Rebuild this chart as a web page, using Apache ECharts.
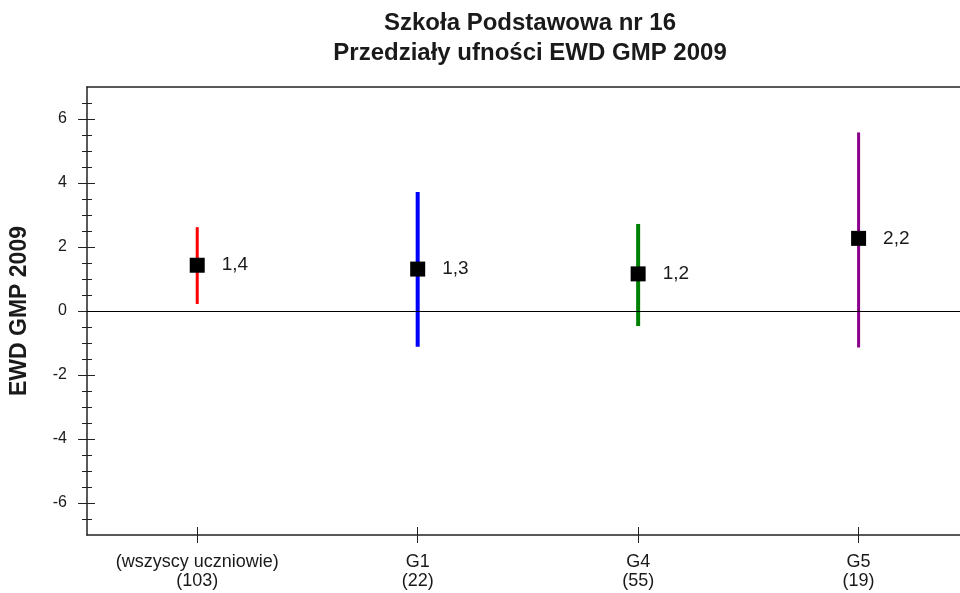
<!DOCTYPE html>
<html>
<head>
<meta charset="utf-8">
<script src="https://cdn.jsdelivr.net/npm/echarts@6/dist/echarts.min.js"></script>
<style>html,body{margin:0;padding:0;background:#fff}#c{width:960px;height:593px}</style>
</head>
<body>
<div id="c"></div>
<script>
// ---- data ----
const categories = ['(wszyscy uczniowie)\n(103)', 'G1\n(22)', 'G4\n(55)', 'G5\n(19)'];
const categoryIndex = [0, 1, 2, 3];
const means = [1.43, 1.31, 1.16, 2.27];
const lowerBounds = [0.22, -1.12, -0.47, -1.14];
const upperBounds = [2.62, 3.72, 2.72, 5.58];
const meanLabels = ['1,4', '1,3', '1,2', '2,2'];
const yMajorTicks = [-6, -4, -2, 0, 2, 4, 6];
const yMinorTicks = [-6.5, -5.5, -5, -4.5, -3.5, -3, -2.5, -1.5, -1, -0.5, 0.5, 1, 1.5, 2.5, 3, 3.5, 4.5, 5, 5.5, 6.5];

// ---- styles ----
const barColors = ['#ff0000', '#0000ff', '#008000', '#8b008b'];
const barWidths = [3, 4, 4, 3];
const FONT = '"Liberation Sans", Arial, sans-serif';

const chart = echarts.init(document.getElementById('c'), null, {renderer: 'canvas'});

const yBase = {type: 'value', min: -7, max: 7, position: 'left', splitLine: {show: false}};
// category slots on a value scale; the plot runs past the right edge of the window
const xBase = {type: 'value', min: -0.5, max: 3.46, splitLine: {show: false}};

const option = {
  animation: false,
  backgroundColor: '#ffffff',
  title: {
    text: 'Szkoła Podstawowa nr 16\nPrzedziały ufności EWD GMP 2009',
    left: 525, top: 3, textAlign: 'center',
    textStyle: {fontFamily: FONT, fontWeight: 'bold', fontSize: 24, lineHeight: 30, color: '#1a1a1a'}
  },
  grid: {left: 86, top: 87, right: 0, bottom: 58, containLabel: false},
  xAxis: [
    Object.assign({}, xBase, {
      position: 'bottom',
      axisLine: {show: true, onZero: false, lineStyle: {color: '#222', width: 1.5}},
      axisTick: {show: true, inside: false, length: 8, customValues: categoryIndex, lineStyle: {color: '#222'}},
      axisLabel: {show: true, margin: 18, customValues: categoryIndex, formatter: v => categories[Math.round(v)],
        fontFamily: FONT, fontSize: 18, lineHeight: 19, color: '#1a1a1a'}
    }),
    Object.assign({}, xBase, {
      position: 'bottom',
      axisLine: {show: false, onZero: false},
      axisTick: {show: true, inside: true, length: 8, customValues: categoryIndex, lineStyle: {color: '#222'}},
      axisLabel: {show: false}
    }),
    Object.assign({}, xBase, {
      position: 'top',
      axisLine: {show: true, onZero: false, lineStyle: {color: '#222', width: 1.5}},
      axisTick: {show: false},
      axisLabel: {show: false}
    })
  ],
  yAxis: [
    Object.assign({}, yBase, {
      name: 'EWD GMP 2009', nameLocation: 'middle', nameGap: 56, nameRotate: 90,
      nameTextStyle: {fontFamily: FONT, fontWeight: 'bold', fontSize: 23, color: '#1a1a1a'},
      axisLine: {show: true, onZero: false, lineStyle: {color: '#222', width: 1.5}},
      axisTick: {show: true, inside: false, length: 9, customValues: yMajorTicks, lineStyle: {color: '#222'}},
      axisLabel: {show: true, margin: 20, customValues: yMajorTicks, fontFamily: FONT, fontSize: 16, color: '#1a1a1a'}
    }),
    Object.assign({}, yBase, {
      axisLine: {show: false, onZero: false},
      axisTick: {show: true, inside: true, length: 8, customValues: yMajorTicks, lineStyle: {color: '#222'}},
      axisLabel: {show: false}
    }),
    Object.assign({}, yBase, {
      axisLine: {show: false, onZero: false},
      axisTick: {show: true, inside: false, length: 5, customValues: yMinorTicks, lineStyle: {color: '#222'}},
      axisLabel: {show: false}
    }),
    Object.assign({}, yBase, {
      axisLine: {show: false, onZero: false},
      axisTick: {show: true, inside: true, length: 5, customValues: yMinorTicks, lineStyle: {color: '#222'}},
      axisLabel: {show: false}
    })
  ],
  series: [
    {
      type: 'custom',
      xAxisIndex: 0, yAxisIndex: 0,
      data: categoryIndex.map(i => [i, lowerBounds[i], upperBounds[i]]),
      renderItem: function (params, api) {
        const i = api.value(0);
        const p1 = api.coord([i, api.value(1)]);
        const p2 = api.coord([i, api.value(2)]);
        return {
          type: 'line',
          shape: {x1: p1[0], y1: p1[1], x2: p2[0], y2: p2[1]},
          style: {stroke: barColors[i], lineWidth: barWidths[i]}
        };
      },
      z: 2, silent: true
    },
    {
      type: 'scatter',
      xAxisIndex: 0, yAxisIndex: 0,
      data: categoryIndex.map(i => [i, means[i]]),
      symbol: 'rect', symbolSize: 15,
      itemStyle: {color: '#000', opacity: 1},
      label: {
        show: true, position: 'right', distance: 17,
        formatter: p => meanLabels[p.dataIndex],
        fontFamily: FONT, fontSize: 19, color: '#1a1a1a'
      },
      markLine: {
        silent: true, symbol: 'none',
        label: {show: false},
        lineStyle: {color: '#000', width: 1.2, type: 'solid'},
        data: [{yAxis: 0}]
      },
      z: 3
    }
  ]
};
chart.setOption(option);
</script>
</body>
</html>
